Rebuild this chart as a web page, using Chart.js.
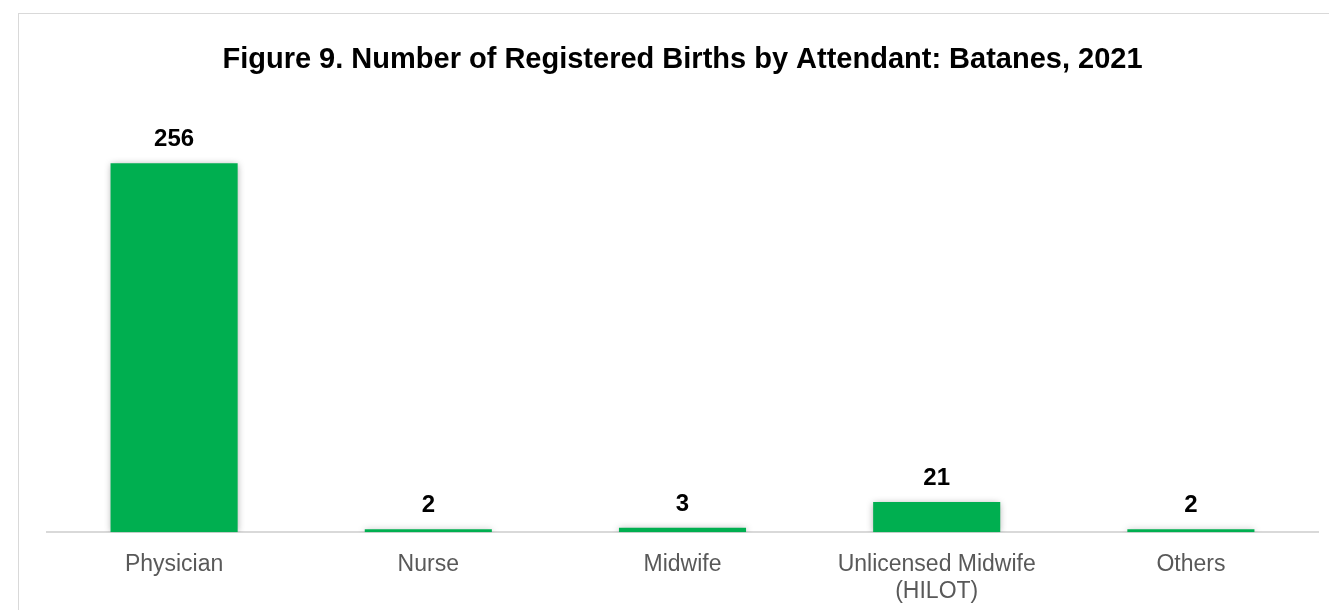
<!DOCTYPE html>
<html lang="en">
<head>
    <meta charset="UTF-8">
    <title>Figure 9. Number of Registered Births by Attendant: Batanes, 2021</title>
    <script src="https://cdn.jsdelivr.net/npm/chart.js"></script>
    <style>
        body {
            margin: 0;
            background: #ffffff;
            overflow: hidden;
            width: 1329px;
            height: 610px;
            position: relative;
        }
        /* frame of the chart box, only left and top edges are visible */
        .frame {
            position: absolute;
            left: 18px;
            top: 13px;
            width: 1400px;
            height: 700px;
            border: 1px solid #d9d9d9;
        }
        #birthsChart {
            position: absolute;
            left: 0;
            top: 0;
        }
    </style>
</head>
<body>
    <div class="frame"></div>
    <canvas id="birthsChart" width="1329" height="629"></canvas>

    <script>
        // data
        const categories = ['Physician', 'Nurse', 'Midwife', ['Unlicensed Midwife', '(HILOT)'], 'Others'];
        const births = [256, 2, 3, 21, 2];
        const yMax = 300;

        const fontFamily = '"Liberation Sans", Arial, sans-serif';

        // bar shadow + value labels above each bar
        const barExtras = {
            id: 'barExtras',
            beforeDatasetsDraw(chart) {
                const ctx = chart.ctx;
                ctx.save();
                ctx.shadowColor = 'rgba(0, 0, 0, 0.35)';
                ctx.shadowBlur = 7;
                ctx.shadowOffsetX = 0;
                ctx.shadowOffsetY = 1;
            },
            afterDatasetsDraw(chart) {
                const ctx = chart.ctx;
                ctx.restore();
                ctx.save();
                ctx.font = 'bold 24px ' + fontFamily;
                ctx.fillStyle = '#000000';
                ctx.textAlign = 'center';
                ctx.textBaseline = 'alphabetic';
                chart.getDatasetMeta(0).data.forEach((bar, i) => {
                    ctx.fillText(births[i], bar.x, bar.y - 17);
                });
                ctx.restore();
            }
        };

        const ctx = document.getElementById('birthsChart').getContext('2d');
        const birthsChart = new Chart(ctx, {
            type: 'bar',
            data: {
                labels: categories,
                datasets: [{
                    label: 'Registered births',
                    data: births,
                    backgroundColor: '#00AF50',
                    borderWidth: 0,
                    categoryPercentage: 1,
                    barPercentage: 0.5
                }]
            },
            options: {
                responsive: false,
                animation: false,
                layout: {
                    padding: { left: 47, right: 11, top: 22, bottom: 5 }
                },
                plugins: {
                    legend: { display: false },
                    tooltip: { enabled: false },
                    title: {
                        display: true,
                        text: 'Figure 9. Number of Registered Births by Attendant: Batanes, 2021',
                        color: '#000000',
                        font: { family: fontFamily, size: 29, weight: 'bold', lineHeight: 1.2 },
                        padding: { top: 21, bottom: 22 }
                    }
                },
                scales: {
                    x: {
                        grid: { display: false, drawTicks: false },
                        border: { display: true, color: '#d9d9d9', width: 2 },
                        ticks: {
                            color: '#595959',
                            padding: 19,
                            maxRotation: 0,
                            autoSkip: false,
                            font: { family: fontFamily, size: 23, lineHeight: 1.17 }
                        }
                    },
                    y: {
                        display: false,
                        min: 0,
                        max: yMax
                    }
                }
            },
            plugins: [barExtras]
        });
    </script>
</body>
</html>
